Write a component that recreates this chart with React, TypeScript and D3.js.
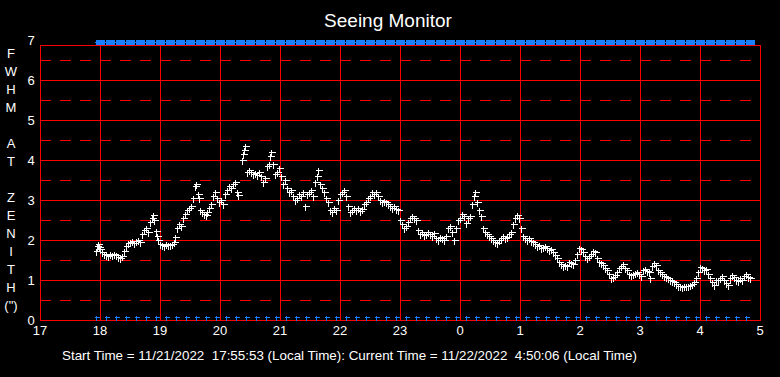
import React from "react";
import * as d3 from "d3";

// minutes after 17:00 on 11/21/2022
const minutes = [
  56, 57, 58, 59, 60, 62, 64, 66, 68, 70, 72, 74, 76, 78, 80, 82, 84, 86, 88, 90,
  92, 94, 96, 98, 100, 102, 104, 106, 108, 110, 112, 113, 114, 116, 117, 118, 120, 122, 124, 126,
  128, 130, 132, 134, 135, 137, 139, 141, 143, 145, 147, 149, 151, 153, 155, 156, 158, 159, 160, 162,
  164, 166, 167, 169, 171, 173, 175, 177, 179, 181, 183, 185, 187, 189, 191, 193, 195, 197, 198, 202,
  203, 204, 205, 207, 209, 211, 213, 215, 217, 219, 221, 223, 225, 227, 229, 230, 231, 233, 235, 237,
  239, 241, 243, 245, 247, 249, 251, 253, 255, 257, 259, 261, 263, 265, 267, 269, 271, 273, 275, 277,
  278, 280, 282, 284, 286, 288, 290, 292, 294, 296, 298, 300, 302, 304, 306, 308, 310, 312, 314, 316,
  318, 320, 322, 324, 326, 328, 330, 332, 334, 336, 338, 340, 342, 344, 346, 348, 350, 352, 354, 356,
  358, 360, 362, 364, 366, 368, 370, 372, 374, 376, 378, 380, 382, 384, 386, 388, 390, 392, 394, 396,
  398, 400, 402, 404, 406, 408, 410, 412, 414, 416, 418, 420, 422, 424, 426, 428, 430, 432, 434, 435,
  437, 439, 441, 443, 445, 447, 449, 451, 453, 455, 457, 459, 461, 463, 465, 467, 469, 471, 473, 475,
  477, 479, 481, 483, 485, 487, 489, 491, 493, 495, 497, 499, 501, 503, 505, 507, 509, 511, 513, 515,
  517, 519, 521, 523, 525, 527, 529, 531, 533, 535, 537, 539, 541, 543, 545, 547, 549, 551, 553, 555,
  557, 559, 561, 563, 565, 567, 569, 571, 573, 575, 577, 579, 581, 583, 585, 587, 589, 591, 593, 595,
  597, 599, 601, 603, 605, 607, 609, 610, 612, 614, 616, 618, 620, 622, 624, 626, 628, 630, 632, 634,
  636, 638, 640, 642, 644, 646, 648, 650, 652, 654, 656, 658, 660, 662, 664, 666, 668, 670, 672, 674,
  676, 678, 680, 682, 684, 686, 688, 690, 692, 694, 696, 698, 700, 702, 704, 706, 708, 710,
];

const fwhm = [
  1.72, 1.85, 1.9, 1.82, 1.78, 1.7, 1.65, 1.62, 1.6, 1.64, 1.62, 1.66, 1.63, 1.58, 1.55, 1.6, 1.72, 1.85, 1.92, 1.95,
  1.97, 1.93, 1.98, 2.0, 1.96, 2.15, 2.25, 2.3, 2.2, 2.45, 2.55, 2.62, 2.5, 2.22, 2.1, 2.0, 1.9, 1.88, 1.85, 1.9,
  1.87, 1.88, 1.9, 1.95, 2.08, 2.3, 2.4, 2.35, 2.55, 2.65, 2.75, 2.8, 2.85, 3.05, 3.35, 3.4, 3.15, 3.05, 2.75, 2.7,
  2.65, 2.62, 2.7, 2.8, 2.9, 3.1, 3.2, 3.05, 2.95, 3.0, 2.9, 3.15, 3.25, 3.35, 3.3, 3.4, 3.45, 3.2, 3.12, 4.0,
  4.15, 4.25, 4.35, 3.7, 3.75, 3.7, 3.65, 3.68, 3.62, 3.7, 3.6, 3.45, 3.55, 3.85, 3.9, 4.1, 4.2, 3.9, 3.65, 3.7,
  3.8, 3.6, 3.4, 3.5, 3.3, 3.2, 3.25, 3.1, 3.0, 3.05, 3.15, 3.1, 3.2, 2.85, 3.15, 3.2, 3.25, 3.1, 3.45, 3.6,
  3.75, 3.4, 3.3, 3.2, 3.05, 2.95, 2.75, 2.7, 2.8, 2.75, 3.0, 3.15, 3.2, 3.25, 3.1, 2.85, 2.7, 2.75, 2.8, 2.75,
  2.8, 2.72, 2.78, 2.9, 2.95, 3.05, 3.1, 3.2, 3.15, 3.2, 3.1, 3.0, 2.95, 2.98, 2.95, 2.9, 2.85, 2.8, 2.85, 2.78,
  2.75, 2.5, 2.4, 2.3, 2.35, 2.45, 2.55, 2.6, 2.55, 2.5, 2.25, 2.15, 2.2, 2.12, 2.15, 2.2, 2.15, 2.1, 2.18, 2.05,
  2.0, 2.08, 2.05, 2.0, 2.1, 2.3, 2.35, 2.2, 2.0, 2.3, 2.5, 2.55, 2.65, 2.6, 2.42, 2.55, 2.6, 2.9, 3.1, 3.2,
  2.95, 2.75, 2.6, 2.3, 2.2, 2.15, 2.1, 2.05, 2.0, 1.95, 1.92, 2.0, 2.05, 2.1, 2.05, 2.08, 2.15, 2.2, 2.4, 2.55,
  2.62, 2.55, 2.3, 2.1, 2.05, 2.0, 2.05, 1.98, 1.95, 1.9, 1.85, 1.88, 1.8, 1.82, 1.85, 1.8, 1.75, 1.78, 1.7, 1.62,
  1.55, 1.45, 1.4, 1.35, 1.38, 1.35, 1.45, 1.42, 1.4, 1.5, 1.65, 1.8, 1.78, 1.7, 1.6, 1.55, 1.6, 1.65, 1.72, 1.7,
  1.55, 1.45, 1.42, 1.38, 1.3, 1.25, 1.15, 1.05, 1.08, 1.12, 1.2, 1.3, 1.35, 1.4, 1.3, 1.25, 1.15, 1.12, 1.15, 1.18,
  1.2, 1.15, 1.1, 1.25, 1.28, 1.22, 1.2, 1.05, 1.35, 1.42, 1.38, 1.25, 1.2, 1.15, 1.1, 1.08, 1.05, 1.0, 0.98, 0.95,
  0.9, 0.86, 0.85, 0.83, 0.85, 0.84, 0.85, 0.88, 0.9, 0.95, 1.05, 1.2, 1.32, 1.3, 1.25, 1.28, 1.15, 1.05,
];

const minutesLate = [712, 714, 716, 718, 720, 722, 724, 726, 728, 730, 732, 734, 736, 738, 740, 742, 744, 746, 748, 750];
const fwhmLate = [0.95, 0.88, 1.0, 1.0, 1.05, 1.1, 1.0, 0.92, 0.88, 1.05, 1.12, 1.08, 1.0, 0.98, 1.05, 1.0, 1.1, 1.15, 1.08, 1.05];

const xTickLabels = ["17", "18", "19", "20", "21", "22", "23", "0", "1", "2", "3", "4", "5"];
const yTickLabels = ["0", "1", "2", "3", "4", "5", "6", "7"];
const yAxisLetters = ["F", "W", "H", "M", "", "A", "T", "", "Z", "E", "N", "I", "T", "H", "(\")"];
const title = "Seeing Monitor";
const footer = "Start Time = 11/21/2022  17:55:53 (Local Time): Current Time = 11/22/2022  4:50:06 (Local Time)";
// status marker times (minutes after 17:00), every 10 minutes
const markerStart = 56;
const markerEnd = 706;

const W = 780;
const H = 377;
const left = 40, right = 760, top = 45, bottom = 320;
const FONT = "'Liberation Sans', Arial, sans-serif";
const RED = "#ff0000";
const BLUE = "#1a80ff";

export default function App() {
  const x = d3.scaleLinear().domain([0, 720]).range([left, right]);
  const y = d3.scaleLinear().domain([0, 7]).range([bottom, bottom - 280]);

  const allM = minutes.concat(minutesLate);
  const allV = fwhm.concat(fwhmLate);
  const pts = allM.map((m, i) => [m, allV[i]] as [number, number]);

  const hours = d3.range(0, 13);
  const halfs = d3.range(0.5, 7, 1);
  const ints = d3.range(1, 7);
  const markers = d3.range(markerStart, markerEnd + 1, 10);

  const cross = (cx: number, cy: number, r: number) => {
    const px = Math.round(cx) + 0.5;
    const py = Math.round(cy) + 0.5;
    return `M${px - r},${py}H${px + r + 1}M${px},${py - r}V${py + r + 1}`;
  };

  return (
    <svg
      width={W}
      height={H}
      style={{ position: "absolute", left: 0, top: 0, background: "#000" }}
      fontFamily={FONT}
    >
      <rect x={0} y={0} width={W} height={H} fill="#000" />
      <text x={388} y={27} fill="#fff" fontSize={19} textAnchor="middle">{title}</text>

      {/* dashed half lines */}
      {halfs.map((v) => (
        <line key={"h" + v} x1={left} x2={right} y1={Math.round(y(v)) + 0.5} y2={Math.round(y(v)) + 0.5}
          stroke={RED} strokeWidth={1} strokeDasharray="11 9" shapeRendering="crispEdges" />
      ))}
      {/* integer lines */}
      {ints.map((v) => (
        <line key={"i" + v} x1={left} x2={right} y1={Math.round(y(v)) + 0.5} y2={Math.round(y(v)) + 0.5}
          stroke={RED} strokeWidth={1} shapeRendering="crispEdges" />
      ))}
      {hours.map((h) => (
        <line key={"v" + h} x1={Math.round(x(h * 60)) + 0.5} x2={Math.round(x(h * 60)) + 0.5} y1={top} y2={bottom}
          stroke={RED} strokeWidth={1} shapeRendering="crispEdges" />
      ))}
      <rect x={left + 0.5} y={top + 0.5} width={right - left} height={bottom - top} fill="none" stroke={RED}
        strokeWidth={1} shapeRendering="crispEdges" />

      {/* top status bar */}
      <line x1={x(markerStart) - 1} x2={x(markerEnd) + 4} y1={42.5} y2={42.5} stroke={BLUE} strokeWidth={1} />
      {markers.map((m) => (
        <rect key={"t" + m} x={Math.round(x(m)) + 1} y={40} width={8} height={5} fill={BLUE} />
      ))}
      {markers.map((m) => (
        <line key={"tl" + m} x1={Math.round(x(m)) + 0.5} x2={Math.round(x(m)) + 0.5} y1={40} y2={45} stroke={BLUE} strokeWidth={1} shapeRendering="crispEdges" />
      ))}

      {/* bottom markers */}
      <path
        d={markers.map((m) => cross(x(m), 317, 2)).join("")}
        stroke={BLUE} strokeWidth={1} fill="none" shapeRendering="crispEdges"
      />

      {/* data */}
      <path
        d={pts.map(([m, v]) => cross(x(m), y(v), 3)).join("")}
        stroke="#fff" strokeWidth={1} fill="none" shapeRendering="crispEdges"
      />

      {/* x tick labels */}
      {xTickLabels.map((t, i) => (
        <text key={"xt" + i} x={x(i * 60)} y={335} fill="#fff" fontSize={13} textAnchor="middle">{t}</text>
      ))}
      {/* y tick labels */}
      {yTickLabels.map((t, i) => (
        <text key={"yt" + i} x={31} y={y(i) + 5} fill="#fff" fontSize={13} textAnchor="middle">{t}</text>
      ))}
      {/* y axis title letters */}
      {yAxisLetters.map((c, i) => (
        <text key={"yl" + i} x={11} y={58 + i * 18} fill="#fff" fontSize={13} textAnchor="middle">{c}</text>
      ))}

      <text x={62} y={360} fill="#fff" fontSize={13.4} style={{ whiteSpace: "pre" }}>{footer}</text>
    </svg>
  );
}
